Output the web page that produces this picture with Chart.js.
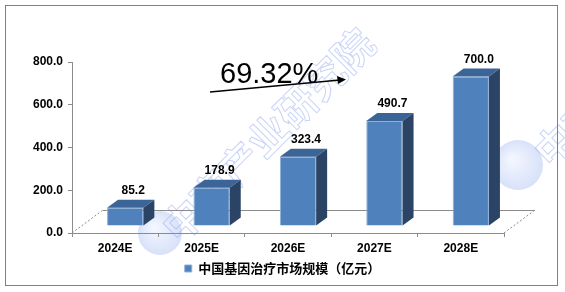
<!DOCTYPE html>
<html>
<head>
<meta charset="utf-8">
<script src="https://cdn.jsdelivr.net/npm/chart.js@4/dist/chart.umd.min.js"></script>
<style>
  html, body { margin: 0; padding: 0; background: #fff; }
  #wrap { position: relative; width: 565px; height: 292px; }
  #frame { position: absolute; left: 5px; top: 5px; width: 553px; height: 281px; border: 1px solid #808080; box-sizing: border-box; pointer-events: none; }
</style>
</head>
<body>
<div id="wrap">
  <canvas id="c" width="565" height="292"></canvas>
  <div id="frame"></div>
</div>
<script>
const years = ["2024E", "2025E", "2026E", "2027E", "2028E"];
const marketSize = [85.2, 178.9, 323.4, 490.7, 700.0];
const seriesName = "中国基因治疗市场规模（亿元）";
const cagrText = "69.32%";

const FRONT = "#4f81bd";
const TOP = "#3c6597";
const SIDE = "#2b4465";
const EDGE = "#8fb0d8";

// bars sit half way into the floor depth
const shiftX = 10, shiftY = -7;
const depthX = 11, depthY = -8;

const watermark = {
    id: "watermark",
    beforeDraw(chart) {
        const ctx = chart.ctx;
        ctx.save();
        [[160, 233, 22], [518, 165, 25]].forEach(([x, y, r]) => {
            const g = ctx.createRadialGradient(x - 6, y - 6, 2, x, y, r);
            g.addColorStop(0, "rgba(235,240,255,0.6)");
            g.addColorStop(1, "rgba(190,205,245,0.6)");
            ctx.fillStyle = g;
            ctx.beginPath();
            ctx.arc(x, y, r, 0, Math.PI * 2);
            ctx.fill();
        });
        ctx.font = "bold 40px 'Noto Sans CJK SC'";
        ctx.textAlign = "center";
        ctx.textBaseline = "middle";
        ctx.strokeStyle = "rgba(150,170,240,0.5)";
        ctx.lineWidth = 1;
        [[268, 135], [640, 60]].forEach(([x, y]) => {
            ctx.save();
            ctx.translate(x, y);
            ctx.rotate(-Math.PI / 4);
            ctx.strokeText("中商产业研究院", 0, 0);
            ctx.restore();
        });
        ctx.restore();
    }
};

const floor3d = {
    id: "floor3d",
    beforeDatasetsDraw(chart) {
        const ctx = chart.ctx;
        const x = chart.scales.x, y = chart.scales.y;
        const y0 = y.getPixelForValue(0);
        const l = x.left, r = x.right;
        ctx.save();
        ctx.strokeStyle = "#8c8c8c";
        ctx.lineWidth = 1;
        ctx.beginPath();
        ctx.moveTo(l + 31, y0 - 23 + 0.5);
        ctx.lineTo(r + 31, y0 - 23 + 0.5);
        ctx.stroke();
        ctx.setLineDash([2, 2]);
        ctx.beginPath();
        ctx.moveTo(l, y0);
        ctx.lineTo(l + 31, y0 - 23);
        ctx.moveTo(r, y0);
        ctx.lineTo(r + 31, y0 - 23);
        ctx.stroke();
        ctx.restore();
        ctx.save();
        ctx.translate(shiftX, shiftY);
    },
    afterDatasetsDraw(chart) {
        const ctx = chart.ctx;
        ctx.restore();
        const meta = chart.getDatasetMeta(0);
        ctx.save();
        meta.data.forEach((bar, i) => {
            const p = bar.getProps(["x", "y", "base", "width"], true);
            const x1 = p.x - p.width / 2 + shiftX;
            const x2 = p.x + p.width / 2 + shiftX;
            const top = p.y + shiftY;
            const bot = p.base + shiftY;
            ctx.fillStyle = TOP;
            ctx.beginPath();
            ctx.moveTo(x1, top);
            ctx.lineTo(x1 + depthX, top + depthY);
            ctx.lineTo(x2 + depthX, top + depthY);
            ctx.lineTo(x2, top);
            ctx.closePath();
            ctx.fill();
            ctx.fillStyle = SIDE;
            ctx.beginPath();
            ctx.moveTo(x2, top);
            ctx.lineTo(x2 + depthX, top + depthY);
            ctx.lineTo(x2 + depthX, bot + depthY);
            ctx.lineTo(x2, bot);
            ctx.closePath();
            ctx.fill();
            ctx.fillStyle = "#000";
            ctx.font = "bold 12px 'Liberation Sans', Arial";
            ctx.textAlign = "center";
            ctx.textBaseline = "bottom";
            ctx.fillText(marketSize[i].toFixed(1), p.x + shiftX + 8, top + depthY - 3);
        });
        ctx.restore();
    }
};

const cagrArrow = {
    id: "cagrArrow",
    afterDraw(chart) {
        const ctx = chart.ctx;
        ctx.save();
        ctx.fillStyle = "#000";
        ctx.font = "29px 'Liberation Sans', Arial";
        ctx.textBaseline = "alphabetic";
        ctx.fillText(cagrText, 220, 83);
        ctx.strokeStyle = "#000";
        ctx.lineWidth = 1.3;
        ctx.beginPath();
        ctx.moveTo(210, 92);
        ctx.lineTo(340, 80);
        ctx.stroke();
        ctx.beginPath();
        ctx.moveTo(346, 79.5);
        ctx.lineTo(337, 76);
        ctx.lineTo(338, 84);
        ctx.closePath();
        ctx.fill();
        ctx.restore();
    }
};

new Chart(document.getElementById("c"), {
    type: "bar",
    data: {
        labels: years,
        datasets: [{
            label: seriesName,
            data: marketSize,
            backgroundColor: FRONT,
            borderColor: EDGE,
            borderWidth: 1,
            barPercentage: 0.42,
            categoryPercentage: 1
        }]
    },
    options: {
        responsive: false,
        animation: false,
        layout: { padding: { left: 0, right: 0, top: 62, bottom: 7 } },
        plugins: {
            legend: {
                position: "bottom",
                labels: {
                    boxWidth: 7,
                    boxHeight: 7,
                    padding: 6,
                    color: "#000",
                    font: { size: 13, weight: "bold", family: "'Noto Sans CJK SC'" }
                }
            },
            tooltip: { enabled: false }
        },
        scales: {
            x: {
                afterFit(s) { s.height = 23; },
                grid: { offset: true, drawOnChartArea: false, tickLength: 4, color: "#8c8c8c" },
                border: { color: "#8c8c8c" },
                ticks: {
                    color: "#000",
                    padding: 4,
                    font: { size: 12, weight: "bold", family: "'Liberation Sans', Arial" }
                }
            },
            y: {
                min: 0,
                max: 800,
                afterFit(s) { s.width = 72; },
                grid: { drawOnChartArea: false, tickLength: 4, color: "#8c8c8c" },
                border: { color: "#8c8c8c" },
                ticks: {
                    stepSize: 200,
                    color: "#000",
                    padding: 5,
                    font: { size: 12, weight: "bold", family: "'Liberation Sans', Arial" },
                    callback: v => v.toFixed(1)
                }
            },
            // empty right-hand space for the floor depth
            yRight: {
                type: "linear",
                position: "right",
                afterFit(s) { s.width = 61; },
                grid: { display: false },
                border: { display: false },
                ticks: { display: false }
            }
        }
    },
    plugins: [watermark, floor3d, cagrArrow]
});
</script>
</body>
</html>
